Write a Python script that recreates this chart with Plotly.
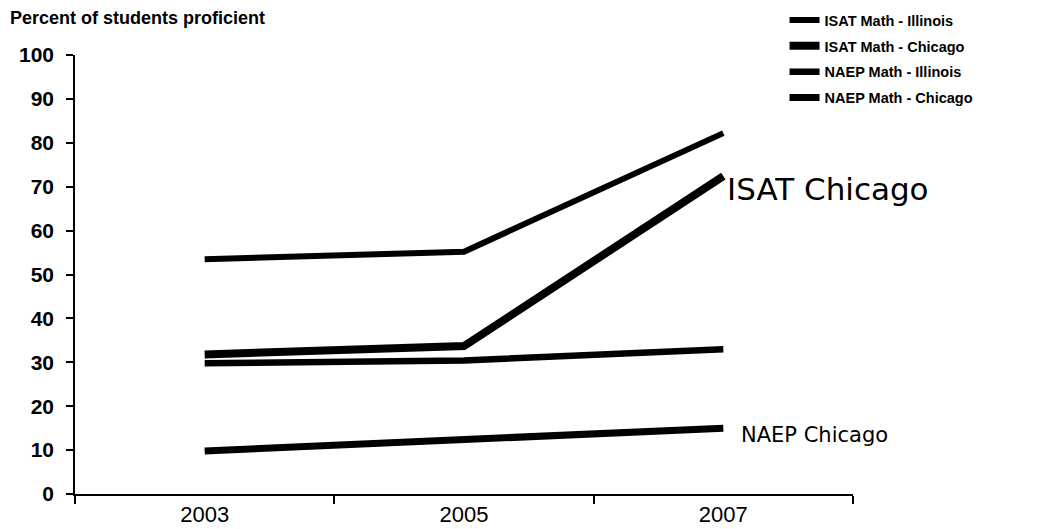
import plotly.graph_objects as go

years = ["2003", "2005", "2007"]
series_names = ["ISAT Math - Illinois", "ISAT Math - Chicago", "NAEP Math - Illinois", "NAEP Math - Chicago"]
isat_illinois = [53.5, 55.2, 82.2]
isat_chicago = [31.8, 33.7, 72.4]
naep_illinois = [29.8, 30.4, 33.0]
naep_chicago = [9.8, 12.6, 15.0]
y_ticks = [0, 10, 20, 30, 40, 50, 60, 70, 80, 90, 100]

series_values = [isat_illinois, isat_chicago, naep_illinois, naep_chicago]
widths = [6, 8, 6.5, 7]

fig = go.Figure()
for i, (name, vals) in enumerate(zip(series_names, series_values)):
    fig.add_trace(go.Scatter(
        x=years, y=vals, mode="lines", name=name,
        legendgroup=f"g{i}",
        line=dict(color="black", width=widths[i]),
    ))

fig.update_layout(
    width=1046, height=521,
    margin=dict(l=67, r=201, t=47, b=35, autoexpand=False),
    paper_bgcolor="white", plot_bgcolor="white",
    font=dict(family="Liberation Sans, Arial, sans-serif", color="black"),
    showlegend=True,
    legend=dict(
        x=0.912, y=1.116, xanchor="left", yanchor="top",
        font=dict(size=14.5, weight="bold"),
        tracegroupgap=4, itemwidth=30,
        bgcolor="rgba(0,0,0,0)",
    ),
    xaxis=dict(
        type="category", range=[-0.5, 2.5], automargin=False,
        tickson="boundaries", ticks="outside", ticklen=8, tickwidth=1.5, tickcolor="black",
        showline=True, linecolor="black", linewidth=1.5,
        showgrid=False, zeroline=False,
        tickfont=dict(size=22),
    ),
    yaxis=dict(
        range=[0, 100], tickvals=y_ticks, automargin=False,
        ticks="outside", ticklen=7, tickwidth=1.5, tickcolor="black",
        ticklabelstandoff=8,
        showline=True, linecolor="black", linewidth=1.5,
        showgrid=False, zeroline=False,
        tickfont=dict(size=21, weight="bold"),
    ),
    annotations=[
        dict(text="Percent of students proficient", xref="paper", yref="paper",
             x=-0.0861, y=1.084, xanchor="left", yanchor="middle", showarrow=False,
             font=dict(size=18, weight="bold")),
        dict(text="ISAT Chicago", xref="paper", yref="y", x=0.968, y=69.5,
             xanchor="center", yanchor="middle", showarrow=False,
             font=dict(size=31, family="DejaVu Sans")),
        dict(text="NAEP Chicago", xref="paper", yref="y", x=0.950, y=13.5,
             xanchor="center", yanchor="middle", showarrow=False,
             font=dict(size=21, family="DejaVu Sans")),
    ],
)

fig.write_html("out.html")
